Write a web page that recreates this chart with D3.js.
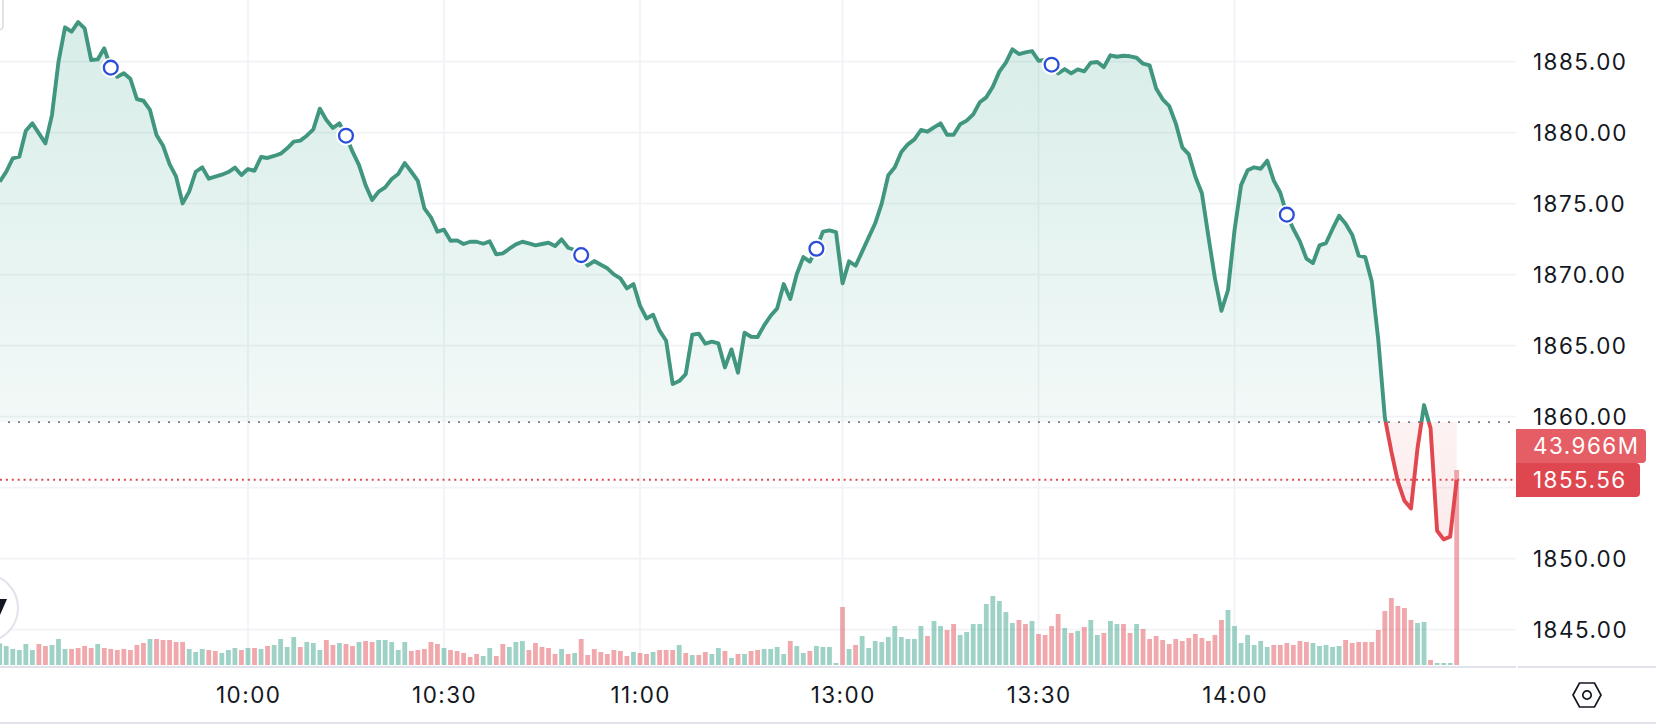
<!DOCTYPE html>
<html>
<head>
<meta charset="utf-8">
<script src="https://cdn.jsdelivr.net/npm/d3@7/dist/d3.min.js"></script>
<style>
html,body{margin:0;padding:0;background:#fff;overflow:hidden}
svg{display:block}
text{font-family:Inter,"Noto Sans",sans-serif;letter-spacing:1.5px}
</style>
</head>
<body>
<svg id="chart" width="1656" height="726"></svg>
<script>
// --- Data -----------------------------------------------------------------
const sessions = [["09:22","11:30"],["13:00","14:34"]];
const prices = [
1876.55,1877.25,1878.19,1878.31,1880.14,1880.66,1879.95,1879.25,1881.24,1885.00,
1887.42,1887.11,1887.79,1887.35,1885.12,1885.16,1885.94,1884.58,1883.94,1884.18,
1883.80,1882.37,1882.25,1881.60,1879.84,1879.08,1877.79,1876.90,1875.02,1875.85,
1877.25,1877.56,1876.76,1876.90,1877.04,1877.23,1877.54,1877.02,1877.44,1877.32,
1878.29,1878.22,1878.36,1878.52,1878.90,1879.37,1879.44,1879.79,1880.23,1881.69,
1880.89,1880.33,1880.66,1879.79,1878.66,1877.72,1876.31,1875.26,1875.85,1876.15,
1876.74,1877.09,1877.86,1877.25,1876.60,1874.67,1874.04,1873.03,1873.17,1872.39,
1872.42,1872.16,1872.32,1872.32,1872.18,1872.35,1871.43,1871.50,1871.83,1872.14,
1872.32,1872.21,1872.07,1872.16,1872.25,1872.02,1872.49,1871.90,1871.74,1871.38,
1870.66,1870.96,1870.70,1870.45,1870.02,1869.74,1869.04,1869.34,1867.82,1866.92,
1867.18,1866.06,1865.35,1862.30,1862.51,1863.00,1865.77,1865.85,1865.14,1865.28,
1865.16,1863.47,1864.74,1863.10,1865.92,1865.63,1865.61,1866.43,1867.11,1867.63,
1869.34,1868.29,1870.05,1871.24,1870.92,1871.83,1873.03,1873.12,1873.00,1869.39,
1870.94,1870.63,1871.62,1872.63,1873.62,1875.02,1877.00,1877.56,1878.64,1879.18,
1879.53,1880.19,1880.07,1880.38,1880.66,1879.86,1879.86,1880.59,1880.85,1881.29,
1882.14,1882.49,1883.24,1884.30,1884.93,1885.87,1885.54,1885.66,1885.75,1885.07,
1885.12,1884.79,1884.18,1884.48,1884.18,1884.46,1884.32,1884.93,1884.98,1884.62,
1885.45,1885.35,1885.42,1885.38,1885.28,1884.86,1884.74,1883.12,1882.35,1881.88,
1880.66,1878.97,1878.47,1876.90,1875.73,1872.68,1869.74,1867.46,1868.92,1873.15,
1876.31,1877.35,1877.56,1877.46,1878.03,1876.62,1875.77,1874.23,1873.22,1872.35,
1871.13,1870.82,1872.07,1872.23,1873.22,1874.15,1873.59,1872.82,1871.34,1871.24,
1869.53,1865.40,1859.95,1857.54,1855.42,1854.08,1853.54,1857.77,1860.82,1859.18,
1851.97,1851.36,1851.55,1855.56
];
// traded volume per minute, in millions
const volumes = [
4.88,4.28,3.61,3.38,4.74,3.38,4.74,4.28,4.51,5.86,
3.61,3.61,3.83,4.28,3.83,4.74,3.83,3.61,3.38,3.61,
3.38,4.51,4.96,5.86,5.86,5.64,5.64,5.19,5.19,3.61,
2.93,3.61,3.38,3.16,2.71,3.38,3.83,3.38,3.83,3.83,
3.61,4.28,4.51,5.86,4.06,6.31,4.06,5.19,4.96,3.38,
5.64,4.51,4.96,4.74,4.28,5.19,5.41,5.19,5.64,5.64,
5.19,3.38,5.19,3.16,3.38,3.61,5.19,4.74,3.83,3.38,
3.16,2.71,1.80,2.48,2.03,3.83,2.03,4.74,4.06,5.19,
5.41,3.38,4.96,4.06,3.83,2.48,3.61,2.48,2.71,5.86,
2.26,3.61,2.93,2.48,3.38,3.16,2.03,2.93,2.71,2.48,
2.93,3.38,3.38,3.38,4.51,2.71,2.26,2.26,2.93,2.48,
3.83,3.16,1.58,2.48,2.48,3.16,3.38,3.61,3.61,4.06,
2.48,5.41,4.28,2.71,3.16,4.28,4.06,4.06,0.45,13.08,
3.61,4.51,6.54,3.83,5.41,5.19,6.31,8.79,6.31,5.86,
5.86,8.79,6.54,9.92,8.79,7.89,9.25,6.77,7.44,9.25,
9.25,13.75,15.56,14.43,11.95,9.47,10.15,9.25,9.92,6.99,
6.77,8.79,11.50,8.34,7.22,7.67,8.57,10.15,6.77,7.22,
9.92,9.25,9.25,7.22,9.25,8.12,5.86,6.54,5.64,4.74,
5.86,5.41,6.09,6.99,6.09,5.41,6.77,10.15,12.40,8.79,
4.96,6.77,4.51,5.41,4.06,4.51,4.51,4.96,4.51,5.41,
5.19,4.96,4.28,4.51,4.06,4.28,5.64,4.96,5.19,5.19,
5.19,7.89,12.18,15.10,13.30,12.85,10.15,9.47,9.70,1.13,
0.45,0.45,0.45,43.966
];
const volumeSides = (
"gggggg rrgg grrrrgrrrr rrrgrrrrrg ggrrgggrgr grggggrggg rrgrrgrrgg ggg rrrrrgr rrrrggrrgg "+
"grrrrrgrgr rrrrrrrgrr grrrgrgrrg grgrgrrggg grggrggggr grgggggggg ggrggrrggg gggggg rrgr "+
"rrrgrgrggr ggrrgrrrrr rrrrrrrrgg gggggrrrrr rggggg rrrr rrrrrrrggr gggr"
).replace(/ /g,"").split("");
const timeTicks = ["10:00","10:30","11:00","13:00","13:30","14:00"];
const priceTicks = [1885,1880,1875,1870,1865,1860,1855,1850,1845];
const priceLabels = [1885,1880,1875,1870,1865,1860,1850,1845];
const markerTimes = ["09:39","10:15","10:51","11:27","13:32","14:08"];
const basePrice = 1859.62;
const lastPrice = 1855.56;
const lastPriceLabel = "1855.56";
const lastVolumeLabel = "43.966M";

// --- Minute categories from the two sessions -------------------------------
const toMin = s => { const [h,m] = s.split(":").map(Number); return h*60+m; };
const fmt = m => String(Math.floor(m/60)).padStart(2,"0")+":"+String(m%60).padStart(2,"0");
const minutes = sessions.flatMap(([a,b]) => d3.range(toMin(a),toMin(b)+1).map(fmt));

// --- Layout ----------------------------------------------------------------
const W = 1656, H = 726, paneR = 1516, paneB = 666;
const svg = d3.select("#chart");
const x = d3.scalePoint().domain(minutes).range([-0.3, 1456.7]);
const y = d3.scaleLinear().domain([1845,1885]).range([629.7,61.7]);
const v = d3.scaleLinear().domain([0,43.966]).range([665,470]);
const data = minutes.map((t,i)=>({t,p:prices[i],v:volumes[i],s:volumeSides[i]}));

const GREEN="#419680", RED="#e0474f", INK="#131722", GRID="#f1f3f6", EDGE="#e0e3eb";

const defs = svg.append("defs");
const gGreen = defs.append("linearGradient").attr("id","areaGreen").attr("gradientUnits","userSpaceOnUse")
  .attr("x1",0).attr("x2",0).attr("y1",y(1888)).attr("y2",y(basePrice));
gGreen.append("stop").attr("offset",0).attr("stop-color","#2f9e86").attr("stop-opacity",0.19);
gGreen.append("stop").attr("offset",1).attr("stop-color","#2f9e86").attr("stop-opacity",0.06);
const gRed = defs.append("linearGradient").attr("id","areaRed").attr("gradientUnits","userSpaceOnUse")
  .attr("x1",0).attr("x2",0).attr("y1",y(basePrice)).attr("y2",y(1851));
gRed.append("stop").attr("offset",0).attr("stop-color",RED).attr("stop-opacity",0.07);
gRed.append("stop").attr("offset",1).attr("stop-color",RED).attr("stop-opacity",0.11);
defs.append("clipPath").attr("id","above").append("rect").attr("x",-5).attr("y",0).attr("width",paneR+5).attr("height",y(basePrice));
defs.append("clipPath").attr("id","below").append("rect").attr("x",-5).attr("y",y(basePrice)).attr("width",paneR+5).attr("height",paneB-y(basePrice));

// grid
svg.append("g").selectAll("line").data(priceTicks).join("line")
  .attr("x1",0).attr("x2",paneR).attr("y1",d=>y(d)).attr("y2",d=>y(d))
  .attr("stroke",GRID).attr("stroke-width",1.8);
svg.append("g").selectAll("line").data(timeTicks).join("line")
  .attr("x1",d=>x(d)).attr("x2",d=>x(d)).attr("y1",0).attr("y2",paneB)
  .attr("stroke",GRID).attr("stroke-width",1.8);

// area
const area = d3.area().x(d=>x(d.t)).y0(y(basePrice)).y1(d=>y(d.p));
svg.append("path").datum(data).attr("d",area).attr("fill","url(#areaGreen)").attr("clip-path","url(#above)");
svg.append("path").datum(data).attr("d",area).attr("fill","url(#areaRed)").attr("clip-path","url(#below)");

// volume
svg.append("g").selectAll("rect").data(data).join("rect")
  .attr("x",d=>x(d.t)-2.4).attr("width",4.8)
  .attr("y",d=>v(d.v)).attr("height",d=>v(0)-v(d.v))
  .attr("fill",d=>d.s==="g"?"#3fa58d":"#e15159").attr("fill-opacity",0.5);

// baseline + last price dotted
svg.append("line").attr("x1",8).attr("x2",paneR).attr("y1",y(basePrice)).attr("y2",y(basePrice))
  .attr("stroke","#787b86").attr("stroke-width",1.8).attr("stroke-dasharray","2 8");
svg.append("line").attr("x1",0).attr("x2",paneR).attr("y1",y(lastPrice)).attr("y2",y(lastPrice))
  .attr("stroke",RED).attr("stroke-width",1.8).attr("stroke-dasharray","2 3.9");

// line
const line = d3.line().x(d=>x(d.t)).y(d=>y(d.p));
svg.append("path").datum(data).attr("d",line).attr("fill","none").attr("stroke",GREEN)
  .attr("stroke-width",3.9).attr("stroke-linejoin","round").attr("clip-path","url(#above)");
svg.append("path").datum(data).attr("d",line).attr("fill","none").attr("stroke",RED)
  .attr("stroke-width",3.9).attr("stroke-linejoin","round").attr("clip-path","url(#below)");

// event markers
const byTime = new Map(data.map(d=>[d.t,d]));
const markers = markerTimes.map(t=>byTime.get(t));
const mg = svg.append("g").selectAll("g").data(markers).join("g")
  .attr("transform",d=>`translate(${x(d.t)},${y(d.p)})`);
mg.append("circle").attr("r",10).attr("fill","#fff");
mg.append("circle").attr("r",6.9).attr("fill","#fff").attr("stroke","#2a4ed8").attr("stroke-width",2.3);

// axis frame
svg.append("line").attr("x1",0).attr("x2",paneR).attr("y1",667).attr("y2",667).attr("stroke",EDGE).attr("stroke-width",2);
svg.append("line").attr("x1",paneR+2).attr("x2",W).attr("y1",667).attr("y2",667).attr("stroke",EDGE).attr("stroke-width",2);
svg.append("line").attr("x1",0).attr("x2",W).attr("y1",723).attr("y2",723).attr("stroke",EDGE).attr("stroke-width",2);

// price axis labels (1855.00 sits under the last-price tag in the reference)
svg.append("g").selectAll("text").data(priceLabels).join("text")
  .attr("x",1533).attr("y",d=>y(d)).attr("dy","0.36em")
  .attr("font-size",22.4).attr("fill",INK).text(d=>d.toFixed(2));

// time axis labels
svg.append("g").selectAll("text").data(timeTicks).join("text")
  .attr("x",d=>x(d)+0.7).attr("y",695).attr("dy","0.36em").attr("text-anchor","middle")
  .attr("font-size",22.4).attr("fill",INK).text(d=>d);

// labels on the price scale
const tag = (w,top,h,fill,label,tx) => {
  const r=4, bx=paneR;
  svg.append("path").attr("fill",fill)
    .attr("d",`M${bx},${top}H${bx+w-r}Q${bx+w},${top} ${bx+w},${top+r}V${top+h-r}Q${bx+w},${top+h} ${bx+w-r},${top+h}H${bx}Z`);
  svg.append("text").attr("x",tx).attr("y",top+h/2).attr("dy","0.36em").attr("font-size",22.4)
    .attr("fill","#fff").text(label);
};
tag(130,429,34,"#e55e66",lastVolumeLabel,1533);
tag(124,463,34,"#df4750",lastPriceLabel,1533);

// settings hexagon
const hx=1587, hy=695;
const hex=d3.line()([[-14,0],[-7.5,-12],[7.5,-12],[14,0],[7.5,12],[-7.5,12]])+"Z";
const gear=svg.append("g").attr("transform",`translate(${hx},${hy})`).attr("fill","none").attr("stroke",INK).attr("stroke-width",1.7);
gear.append("path").attr("d",hex);
gear.append("circle").attr("r",4.2);

// logo badge, bottom left
svg.append("circle").attr("cx",-16).attr("cy",608).attr("r",34).attr("fill","#fff").attr("stroke",EDGE).attr("stroke-width",2);
svg.append("path").attr("d",d3.line()([[0,599],[7,599],[0,615]])+"Z").attr("fill",INK);

// top left control edge
svg.append("rect").attr("x",-10).attr("y",-10).attr("width",13).attr("height",40).attr("rx",4)
  .attr("fill","#fff").attr("stroke","#d6d8de").attr("stroke-width",1.4);
</script>
</body>
</html>
